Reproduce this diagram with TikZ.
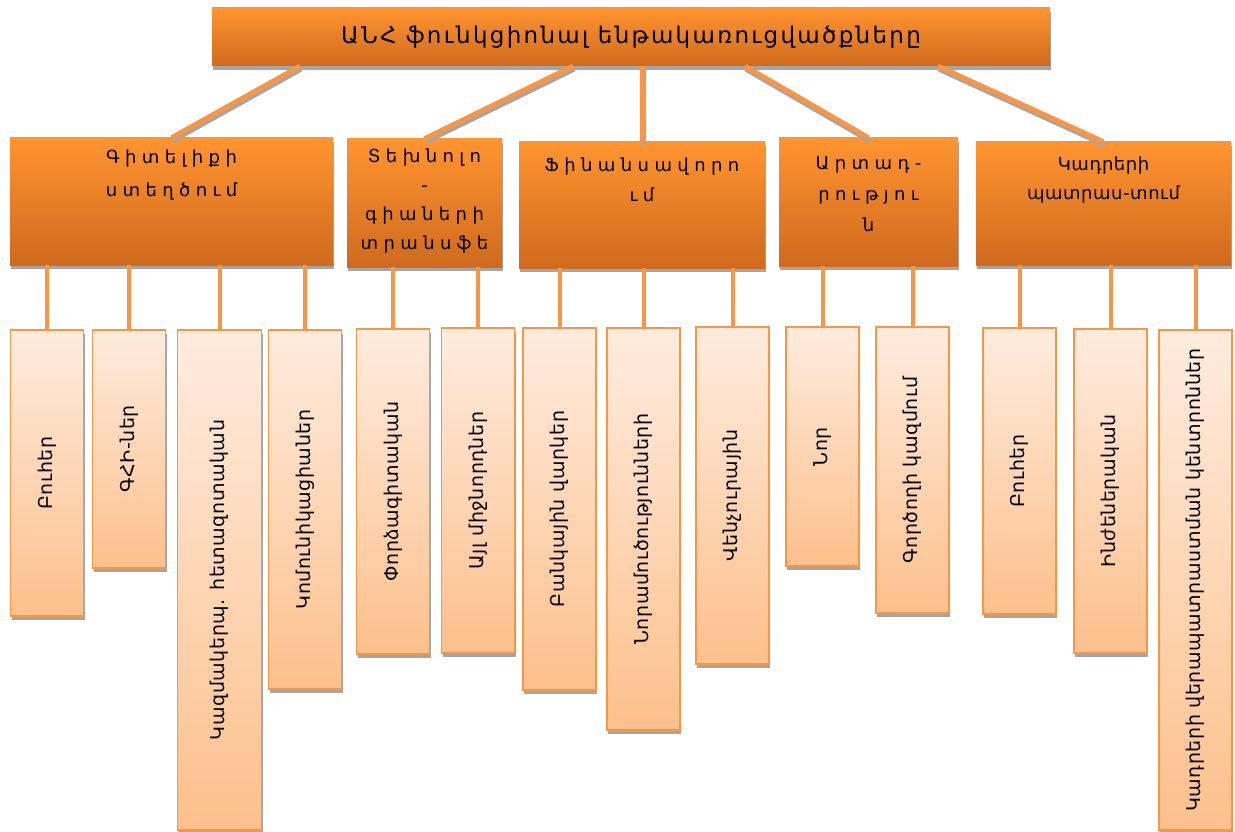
\documentclass[tikz,border=0pt]{standalone}
\usepackage{fontspec}
\setmainfont{DejaVu Sans}
\newfontfamily\titlefont[LetterSpace=10]{DejaVu Sans}
\newfontfamily\headfont[LetterSpace=30]{DejaVu Sans}
\newfontfamily\partfont[LetterSpace=3]{DejaVu Sans}
\usepackage{graphicx}
\usetikzlibrary{positioning,shadows}

\definecolor{orangetop}{RGB}{255,148,48}
\definecolor{orangebot}{RGB}{207,106,30}
\definecolor{peachtop}{RGB}{254,236,222}
\definecolor{peachbot}{RGB}{252,192,140}
\definecolor{edge}{RGB}{247,150,70}
\definecolor{shade}{RGB}{165,165,165}

\begin{document}
\begin{tikzpicture}[x=1pt,y=-1pt]
        \tikzstyle{head}=[rectangle, inner sep=0pt, top color=orangetop, bottom color=orangebot,
          drop shadow={shadow xshift=1pt, shadow yshift=-4pt, fill=shade, opacity=1}]
        \tikzstyle{part}=[rectangle, inner sep=0pt, draw=edge, line width=1.5pt, minimum width=73pt,
          top color=peachtop, bottom color=peachbot,
          drop shadow={shadow xshift=1pt, shadow yshift=-4pt, fill=shade, opacity=1},
          font=\partfont\fontsize{19}{22}\selectfont]
        \tikzstyle{word}=[align=center, inner sep=0pt, font=\headfont\fontsize{18}{31}\selectfont]
        \tikzstyle{link}=[draw=edge, line width=5pt,
          preaction={draw=shade, line width=5pt, transform canvas={shift={(1pt,-3pt)}}}]
        \tikzstyle{stem}=[draw=edge, line width=4pt]
        \useasboundingbox (0,0) rectangle (1235,832);

        % top
        \node[head, minimum width=838pt, minimum height=58pt, font=\titlefont\fontsize{23}{26}\selectfont] (anh) at (631,37)
          {ԱՆՀ ֆունկցիոնալ ենթակառուցվածքները};

        % second row
        \node[head, minimum width=323pt, minimum height=127pt] (know) at (171.5,201.5) {};
        \node[word, below=12pt of know.north, font=\headfont\fontsize{18}{33}\selectfont] (knowt) {Գիտելիքի\\ստեղծում};
        \node[head, minimum width=155pt, minimum height=128pt] (tech) at (424.5,203) {};
        \node[word, below=10pt of tech.north, font=\headfont\fontsize{18}{29}\selectfont] (techt) {Տեխնոլո\\-\\գիաների\\տրանսֆե};
        \node[head, minimum width=246pt, minimum height=126pt] (fin) at (642,205) {};
        \node[word, below=16pt of fin.north, font=\headfont\fontsize{18}{30}\selectfont] (fint) {Ֆինանսավորո\\ւմ};
        \node[head, minimum width=179pt, minimum height=128pt] (prod) at (868.5,202) {};
        \node[word, below=18pt of prod.north] (prodt) {Արտադ-\\րությու\\ն};
        \node[head, minimum width=255pt, minimum height=123pt] (staff) at (1103.5,203.5) {};
        \node[word, below=15pt of staff.north, font=\partfont\fontsize{18}{29}\selectfont] (stafft) {Կադրերի\\պատրաս-տում};

        \draw[link] (300,0 |- anh.south) -- (know.north);
        \draw[link] (573,0 |- anh.south) -- (tech.north);
        \draw[link] (642,0 |- anh.south) -- (fin.north);
        \draw[link] (745,0 |- anh.south) -- (prod.north);
        \draw[link] (938,0 |- anh.south) -- (staff.north);

        % third row
        \node[part, minimum height=286pt] (ua) at (47,473) {\rotatebox{90}{Բուհեր}};
        \node[part, minimum height=238pt] (ub) at (129,449) {\rotatebox{90}{ԳՀԻ-ներ}};
        \node[part, minimum height=500pt, minimum width=84pt] (uc) at (219.5,580) {\rotatebox{90}{Կազմակերպ. հետազոտական}};
        \node[part, minimum height=359pt] (ud) at (305,509.5) {\rotatebox{90}{Կոմունիկացիաներ}};
        \node[part, minimum height=325pt] (ue) at (393,491.5) {\rotatebox{90}{Փորձագիտական}};
        \node[part, minimum height=325pt] (uf) at (478,490.5) {\rotatebox{90}{Այլ միջնորդներ}};
        \node[part, minimum height=362pt] (ug) at (559.5,509) {\rotatebox{90}{Բանկային վարկեր}};
        \node[part, minimum height=402pt] (uh) at (643.5,529) {\rotatebox{90}{Նորամուծությունների}};
        \node[part, minimum height=337pt] (ui) at (732.5,495.5) {\rotatebox{90}{Վենչուրային}};
        \node[part, minimum height=239pt] (uj) at (822.5,446.5) {\rotatebox{90}{Նոր}};
        \node[part, minimum height=286pt] (uk) at (912.5,470) {\rotatebox{90}{Գործողի կազմում}};
        \node[part, minimum height=286pt] (ul) at (1019.5,471) {\rotatebox{90}{Բուհեր}};
        \node[part, minimum height=324pt] (um) at (1110.5,491) {\rotatebox{90}{Ինժեներական}};
        \node[part, minimum height=500pt] (un) at (1195.5,580) {\rotatebox{90}{Կադրերի վերապատրաստման կենտրոններ}};

        \draw[stem] (ua.north |- know.south) -- (ua.north);
        \draw[stem] (ub.north |- know.south) -- (ub.north);
        \draw[stem] (uc.north |- know.south) -- (uc.north);
        \draw[stem] (ud.north |- know.south) -- (ud.north);
        \draw[stem] (ue.north |- tech.south) -- (ue.north);
        \draw[stem] (uf.north |- tech.south) -- (uf.north);
        \draw[stem] (ug.north |- fin.south) -- (ug.north);
        \draw[stem] (uh.north |- fin.south) -- (uh.north);
        \draw[stem] (ui.north |- fin.south) -- (ui.north);
        \draw[stem] (uj.north |- prod.south) -- (uj.north);
        \draw[stem] (uk.north |- prod.south) -- (uk.north);
        \draw[stem] (ul.north |- staff.south) -- (ul.north);
        \draw[stem] (um.north |- staff.south) -- (um.north);
        \draw[stem] (un.north |- staff.south) -- (un.north);
\end{tikzpicture}
\end{document}
